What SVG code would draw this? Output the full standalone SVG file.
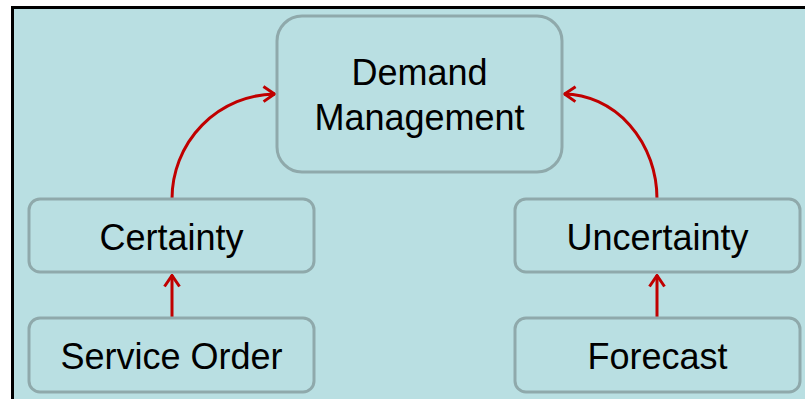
<svg xmlns="http://www.w3.org/2000/svg" width="805" height="399" viewBox="0 0 805 399">
  <defs>
    <style>
      .box { fill: #b9dfe2; stroke: #8fa9ab; stroke-width: 3; }
      .label { font-family: "Liberation Sans", Arial, sans-serif; font-size: 36px; fill: #000; text-anchor: middle; }
      .link { fill: none; stroke: #c00000; stroke-width: 3; }
    </style>
    <marker id="head" viewBox="0 0 14 18" refX="13" refY="9" markerWidth="14" markerHeight="18" markerUnits="userSpaceOnUse" orient="auto">
      <path d="M1.5,1.5 L12.5,9 L1.5,16.5" fill="none" stroke="#c00000" stroke-width="3"/>
    </marker>
  </defs>

  <!-- panel -->
  <rect x="0" y="0" width="805" height="399" fill="#ffffff"/>
  <rect x="12.5" y="7.5" width="800" height="400" fill="#b9dfe2" stroke="#000" stroke-width="3"/>

  <g id="connectors">
    <path class="link" d="M172,199 A104,105 0 0 1 275,94" marker-end="url(#head)"/>
    <path class="link" d="M657,199 A94,105 0 0 0 564,94" marker-end="url(#head)"/>
    <path class="link" d="M172,318 L172,275" marker-end="url(#head)"/>
    <path class="link" d="M657,318 L657,275" marker-end="url(#head)"/>
  </g>

  <g id="demand-management">
    <rect class="box" x="277" y="16" width="285" height="156" rx="25"/>
    <text class="label" x="419.5" y="85">Demand</text>
    <text class="label" x="419.5" y="130">Management</text>
  </g>

  <g id="certainty">
    <rect class="box" x="29" y="199" width="285" height="73" rx="11"/>
    <text class="label" x="171.5" y="250">Certainty</text>
  </g>

  <g id="service-order">
    <rect class="box" x="29" y="318" width="285" height="74" rx="11"/>
    <text class="label" x="171.5" y="369">Service Order</text>
  </g>

  <g id="uncertainty">
    <rect class="box" x="515" y="199" width="285" height="73" rx="11"/>
    <text class="label" x="657.5" y="250">Uncertainty</text>
  </g>

  <g id="forecast">
    <rect class="box" x="515" y="318" width="285" height="74" rx="11"/>
    <text class="label" x="657.5" y="369">Forecast</text>
  </g>
</svg>
